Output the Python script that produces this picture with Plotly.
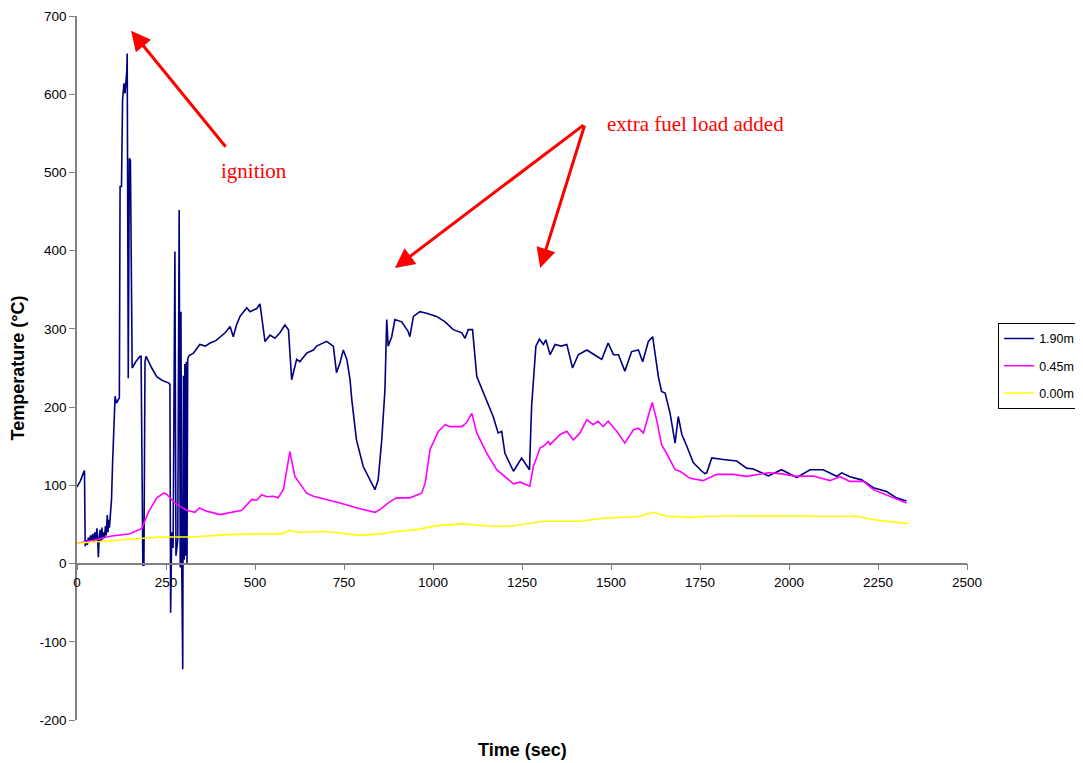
import plotly.graph_objects as go

# (time s, temperature °C)
series_190 = [(0,98),(10,106),(18,116),(21,119),(23,22),(26,30),(29,24),(32,33),(35,27),(38,36),(41,29),(44,38),(47,27),(50,40),(53,30),(56,45),(58,33),(60,8),(62,30),(65,43),(67,28),(70,46),(72,31),(75,40),(77,33),(80,48),(82,36),(85,62),(87,40),(89,56),(91,46),(94,70),(97,82),(100,129),(104,170),(107,214),(111,205),(119,212),(121,482),(125,482),(128,593),(132,614),(135,601),(140,631),(141,652),(144,237),(147,518),(150,516),(155,250),(165,258),(177,265),(180,265),(185,-2),(188,-2),(191,258),(194,265),(210,250),(224,239),(240,234),(257,231),(261,229),(263,-63),(266,40),(270,20),(275,399),(278,10),(283,30),(287,452),(290,-5),(292,322),(294,10),(297,-135),(299,240),(301,5),(303,255),(305,10),(307,258),(309,0),(311,262),(315,266),(327,269),(345,280),(360,278),(374,282),(390,285),(402,290),(416,295),(430,303),(439,290),(448,305),(458,316),(468,322),(477,327),(486,322),(495,324),(505,326),(514,332),(528,284),(542,292),(556,288),(570,295),(584,305),(594,299),(603,235),(617,261),(626,258),(645,269),(664,273),(673,278),(701,284),(720,278),(729,244),(739,257),(748,273),(758,261),(767,235),(772,209),(785,158),(804,124),(820,110),(837,94.5),(846,107),(856,158),(865,222),(870,312),(874,278),(884,290),(893,312),(912,309),(930,297),(935,290),(945,316),(963,322),(982,320),(1010,316),(1034,309),(1057,299),(1081,295),(1090,288),(1099,299),(1111,299),(1123,239),(1141,218),(1169,188),(1183,167),(1193,169),(1202,141),(1226,118),(1249,135),(1271,120),(1277,201),(1289,278),(1299,287),(1310,280),(1317,286),(1329,267),(1343,280),(1360,278),(1376,280),(1392,250),(1408,267),(1432,273),(1460,265),(1474,261),(1492,282),(1507,267),(1521,267),(1539,246),(1558,271),(1577,273),(1589,258),(1605,284),(1617,290),(1624,265),(1633,239),(1642,220),(1652,218),(1666,192),(1680,154),(1689,188),(1699,165),(1713,150),(1731,129),(1755,118),(1764,115),(1769,116),(1783,135),(1815,133),(1853,131),(1881,122),(1900,121),(1942,112),(1979,120),(2022,110),(2059,120),(2096,120),(2134,111.5),(2148,116),(2171,111),(2204,107),(2237,97),(2274,92),(2302,84),(2330,80)]

series_045 = [(0,26),(50,30),(93,35),(149,38),(182,45),(200,65),(224,84),(244,90),(251,89),(275,77.5),(308,68),(331,65.5),(344,71),(364,67),(402,62.6),(430,65.5),(463,68),(491,82),(505,81),(519,88),(533,85.5),(552,86),(565,84),(580,95),(598,143),(612,111.5),(645,90),(664,86),(697,82.6),(734,78),(795,70),(837,65.5),(851,69),(875,78),(898,84),(935,84),(968,90),(978,103),(992,146),(1015,169),(1034,177.5),(1048,175),(1081,175),(1094,180),(1109,192),(1123,167),(1151,141),(1179,120),(1226,102),(1245,104),(1272,99),(1282,124),(1301,148),(1310,150),(1324,156),(1329,152),(1357,165),(1376,169),(1394,158),(1413,167),(1432,184),(1450,177.5),(1464,182),(1478,175),(1492,182),(1516,169),(1539,154),(1563,171),(1577,173),(1591,167),(1610,197),(1616,206),(1628,184),(1642,152),(1656,141),(1680,120),(1694,118),(1722,109),(1759,106),(1797,114),(1843,114),(1881,111.5),(1942,116),(1975,115),(2022,111.5),(2068,112),(2115,106),(2143,111),(2171,105),(2209,105),(2237,94.5),(2274,88),(2330,77.5)]

series_000 = [(0,26),(140,30.6),(233,34),(327,34),(420,37),(514,38),(575,38),(598,42.6),(617,40),(701,41),(739,39),(795,36),(851,38),(898,41),(954,43.4),(1010,48.5),(1085,50.7),(1160,47.7),(1216,47.7),(1272,52),(1310,54),(1413,54),(1478,58),(1553,59.6),(1581,60.4),(1610,64.7),(1619,65.5),(1656,60.4),(1722,59),(1769,60.4),(1956,61),(2096,60.4),(2190,60.4),(2237,56),(2302,52.8),(2335,51)]

series_names = ["1.90m", "0.45m", "0.00m"]
series_colors = ["#000080", "#FF00FF", "#FFFF00"]

y_ticks = [-200, -100, 0, 100, 200, 300, 400, 500, 600, 700]
y_ticktext = ["-200", "-100", "0", "100", "200", "300", "400", "500", "600", "700"]
x_ticks = [0, 250, 500, 750, 1000, 1250, 1500, 1750, 2000, 2250, 2500]

fig = go.Figure()
for i, (name, color, data) in enumerate(zip(series_names, series_colors, [series_190, series_045, series_000])):
    fig.add_trace(go.Scatter(
        x=[p[0] for p in data], y=[p[1] for p in data],
        mode="lines", name=name, legendgroup=f"g{i}",
        line=dict(color=color, width=1.6)))

arrow_style = dict(showarrow=True, arrowhead=2, arrowsize=1.3, arrowwidth=3,
                   arrowcolor="#FF0000", axref="x", ayref="y", text="")
fig.add_annotation(x=152, y=681, ax=421, ay=531, **arrow_style)
fig.add_annotation(x=893, y=378, ax=1427, ay=562, **arrow_style)
fig.add_annotation(x=1301, y=378, ax=1427, ay=562, **arrow_style)

serif = "Liberation Serif, Times New Roman, serif"
fig.add_annotation(x=497, y=502, text="ignition", showarrow=False,
                   font=dict(family=serif, size=21, color="#FF0000"))
fig.add_annotation(x=1736, y=562, text="extra fuel load added", showarrow=False,
                   font=dict(family=serif, size=21, color="#FF0000"))
fig.add_annotation(xref="paper", yref="paper", x=0.5, y=-0.043, yanchor="middle",
                   text="<b>Time (sec)</b>", showarrow=False,
                   font=dict(family="Arial, Liberation Sans, sans-serif", size=18, color="black"))

# the page body adds an 8px offset, so the figure is sized and placed to compensate
fig.update_layout(
    width=1067, height=755,
    margin=dict(l=69, r=108, t=8, b=43, autoexpand=False),
    paper_bgcolor="white", plot_bgcolor="white",
    font=dict(family="Arial, Liberation Sans, sans-serif", size=13.5, color="black"),
    showlegend=True,
    legend=dict(x=1.035, y=0.503, xanchor="left", yanchor="middle",
                bordercolor="black", borderwidth=1, bgcolor="white",
                font=dict(size=12.5), tracegroupgap=8, itemwidth=30),
    xaxis=dict(range=[0, 2500], tickvals=x_ticks, showgrid=False, zeroline=False,
               showline=True, linecolor="#808080", linewidth=1.5,
               ticks="outside", ticklen=6, tickcolor="#808080", automargin=False,
               anchor="free", position=(0 - (-200)) / 900),
    yaxis=dict(range=[-200, 700], tickvals=y_ticks, ticktext=y_ticktext,
               showgrid=False, zeroline=False, automargin=False,
               showline=True, linecolor="#808080", linewidth=1.5,
               ticks="outside", ticklen=6, tickcolor="#808080",
               title=dict(text="<b>Temperature (°C)</b>", standoff=12,
                          font=dict(size=18))),
)

fig.write_html("out.html")
